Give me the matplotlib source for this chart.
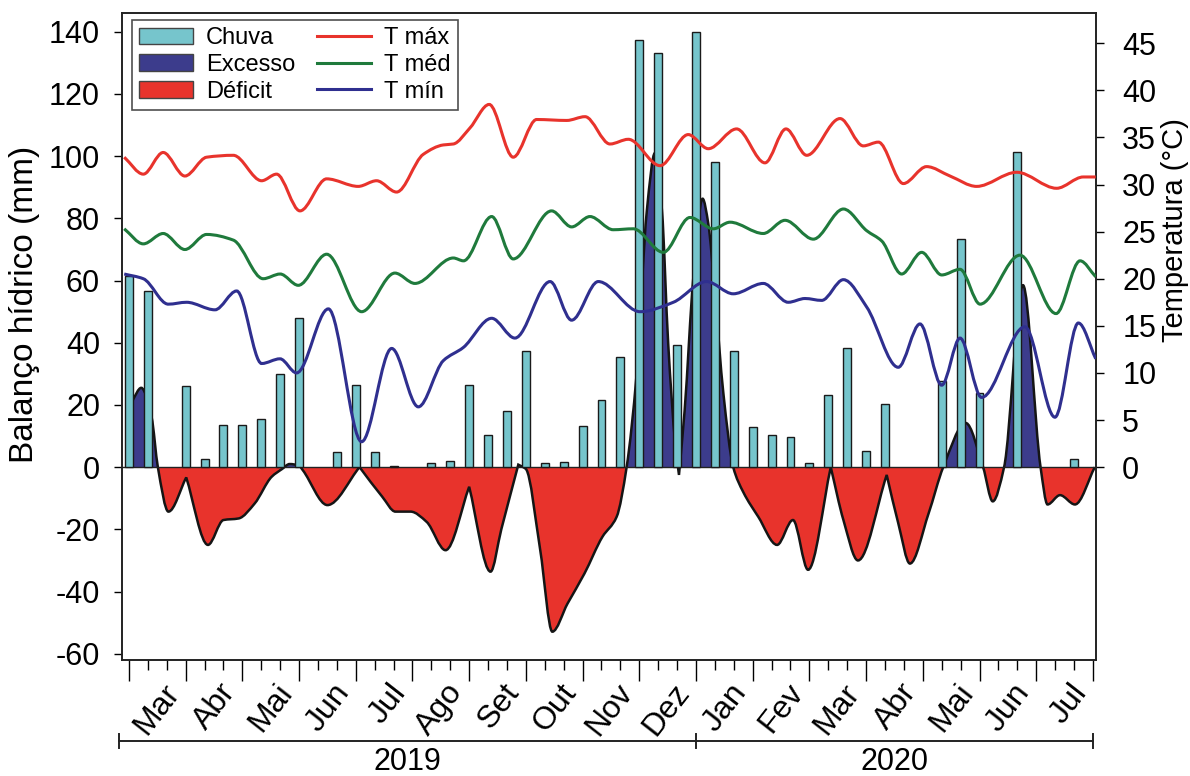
import numpy as np
import matplotlib
matplotlib.use("Agg")
import matplotlib.pyplot as plt
from matplotlib.path import Path
from matplotlib.patches import PathPatch, Rectangle, Patch
from matplotlib.lines import Line2D
import matplotlib.transforms as mtransforms

plt.rcParams['font.family'] = ['Liberation Sans', 'DejaVu Sans']
plt.rcParams['axes.unicode_minus'] = False

# ---------------- data ----------------
months = ['Mar', 'Abr', 'Mai', 'Jun', 'Jul', 'Ago', 'Set', 'Out', 'Nov', 'Dez',
          'Jan', 'Fev', 'Mar', 'Abr', 'Mai', 'Jun', 'Jul']
years = ['2019', '2020']

# decendial rainfall (mm), Mar/2019 .. Jul/2020 (3 per month)
chuva = [61.3, 56.6, 0.0, 26.0, 2.6, 13.6, 13.6, 15.6, 30.0, 48.0,
         0.0, 4.9, 26.3, 4.9, 0.3, 0.0, 1.4, 2.1, 26.5, 10.2,
         17.9, 37.2, 1.2, 1.8, 13.3, 21.5, 35.4, 137.4, 133.3, 39.2,
         140.0, 98.0, 37.4, 12.9, 10.2, 9.8, 1.2, 23.1, 38.2, 5.2,
         20.4, 0.0, 0.0, 27.6, 73.2, 23.9, 0.0, 101.3, 0.0, 0.0, 2.5]

# water balance curve (position in decendials, mm)
bal_x = [0.0, 0.2, 0.65, 1.2, 1.53, 2.09, 3.03, 4.18, 5.0, 5.8,
         6.65, 7.55, 8.1, 8.5, 9.0, 9.2, 10.5, 12.2, 13.4, 14.1,
         14.9, 15.75, 16.75, 18.0, 19.13, 19.7, 20.6, 21.0, 21.76, 22.4,
         23.2, 24.1, 25.05, 25.8, 26.33, 26.86, 27.4, 27.83, 28.2, 28.53,
         28.9, 29.1, 29.4, 29.86, 30.35, 30.65, 31.0, 31.45, 31.97, 32.5,
         33.3, 34.29, 35.13, 35.93, 37.13, 37.8, 38.57, 40.09, 40.7, 41.32,
         42.3, 43.08, 44.27, 45.19, 45.7, 46.3, 47.3, 48.23, 48.6, 49.26,
         50.05, 51.1]
bal_y = [19.0, 21.5, 25.5, 16.0, 0.0, -14.3, -3.3, -25.0, -17.0, -16.5,
         -11.7, -3.1, -0.6, 1.0, 0.5, -1.0, -12.2, 0.0, -9.5, -14.3,
         -14.3, -17.6, -26.7, -6.3, -33.6, -20.0, 0.8, -0.6, -26.7, -52.9,
         -43.9, -34.2, -22.4, -16.0, 0.0, 30.0, 82.5, 101.0, 82.5, 39.7,
         7.6, -2.5, 18.3, 61.0, 86.3, 78.3, 55.8, 23.7, 0.0, -8.0,
         -16.0, -25.0, -17.0, -33.0, 0.0, -17.0, -30.0, -2.5, -18.0, -31.0,
         -15.0, 0.0, 14.2, 0.0, -11.0, 0.0, 58.5, 0.0, -12.0, -9.0,
         -12.0, 0.0]
bal_cusps = [3.03, 12.2, 18.0, 20.6, 29.1, 37.13, 40.09]

# temperatures (position in decendials, °C)
tmax_x = [-0.25, 0.76, 1.81, 2.96, 4.11, 5.52, 7.02, 7.81, 9.05, 10.46,
          12.13, 13.1, 14.16, 15.57, 16.63, 17.16, 18.04, 19.06, 20.33, 21.57,
          23.16, 24.13, 25.45, 26.42, 28.1, 29.59, 30.65, 32.15, 33.65, 34.76,
          35.86, 37.62, 38.85, 39.65, 40.97, 42.2, 43.44, 44.85, 46.97, 49.08,
          50.49, 51.15]
tmax_y = [32.9, 31.1, 33.4, 30.9, 32.9, 33.1, 30.4, 31.1, 27.2, 30.6,
          29.8, 30.4, 29.2, 33.2, 34.2, 34.3, 36.0, 38.5, 32.9, 36.9,
          36.8, 37.2, 34.3, 34.8, 32.0, 35.3, 33.8, 35.9, 32.3, 35.9,
          33.1, 37.0, 34.1, 34.5, 30.1, 31.9, 30.9, 29.8, 31.3, 29.6,
          30.8, 30.8]

tmed_x = [-0.25, 0.76, 1.81, 2.96, 4.11, 5.52, 7.1, 8.0, 8.96, 10.46,
          12.31, 14.07, 15.13, 17.16, 17.7, 19.19, 20.33, 22.36, 23.42, 24.39,
          25.62, 26.68, 28.27, 29.68, 30.92, 31.8, 33.56, 34.71, 36.21, 37.8,
          39.03, 39.83, 40.88, 41.94, 43.0, 43.97, 45.03, 47.14, 49.05, 50.32,
          51.15]
tmed_y = [25.3, 23.7, 24.8, 23.1, 24.7, 24.1, 20.0, 20.5, 19.3, 22.6,
          16.5, 20.6, 19.5, 22.2, 21.9, 26.6, 22.1, 27.2, 25.5, 26.6,
          25.2, 25.3, 22.8, 26.5, 25.3, 26.0, 24.8, 26.2, 24.2, 27.4,
          25.1, 24.0, 20.5, 22.8, 20.4, 21.0, 17.3, 22.5, 16.3, 21.9,
          20.2]

tmin_x = [-0.25, 0.76, 2.08, 3.05, 4.55, 5.7, 7.02, 7.99, 8.87, 10.55,
          12.31, 13.9, 15.31, 16.63, 17.69, 19.19, 20.42, 22.28, 23.42, 24.83,
          27.04, 28.8, 30.56, 31.97, 33.56, 34.88, 35.77, 36.65, 37.8, 39.03,
          40.7, 41.85, 43.0, 43.97, 45.11, 47.4, 48.99, 50.23, 51.15]
tmin_y = [20.5, 20.0, 17.3, 17.5, 16.7, 18.7, 11.0, 11.5, 10.0, 16.8,
          2.7, 12.6, 6.4, 11.3, 12.7, 15.8, 13.7, 19.7, 15.6, 19.7,
          16.5, 17.5, 19.7, 18.4, 19.5, 17.5, 17.9, 17.7, 19.9, 17.0,
          10.6, 15.2, 8.7, 13.7, 7.4, 14.9, 5.3, 15.3, 11.5]

# ---------------- styles ----------------
C_CHUVA = '#76C5CC'
C_EXC = '#3C3C8C'
C_DEF = '#E8332C'
C_TMAX = '#E8332C'
C_TMED = '#1F7A3C'
C_TMIN = '#2F2F8F'


def smooth_path(xs, ys, cusps=()):
    """Cubic Bezier path through the given points (shape-preserving tangents)."""
    x = np.asarray(xs, float)
    y = np.asarray(ys, float)
    n = len(x)
    h = np.diff(x)
    d = np.diff(y) / h
    ml = np.zeros(n)
    mr = np.zeros(n)
    for i in range(n):
        if i == 0:
            ml[i] = mr[i] = d[0]
            continue
        if i == n - 1:
            ml[i] = mr[i] = d[-1]
            continue
        if any(abs(x[i] - c) < 1e-9 for c in cusps):
            ml[i] = d[i - 1]
            mr[i] = d[i]
            continue
        if d[i - 1] * d[i] <= 0:
            m = 0.0
        else:
            w1 = 2 * h[i] + h[i - 1]
            w2 = h[i] + 2 * h[i - 1]
            m = (w1 + w2) / (w1 / d[i - 1] + w2 / d[i])
        ml[i] = mr[i] = m
    verts = [(x[0], y[0])]
    codes = [Path.MOVETO]
    for i in range(n - 1):
        hh = h[i]
        verts += [(x[i] + hh / 3, y[i] + mr[i] * hh / 3),
                  (x[i + 1] - hh / 3, y[i + 1] - ml[i + 1] * hh / 3),
                  (x[i + 1], y[i + 1])]
        codes += [Path.CURVE4] * 3
    return verts, codes


fig = plt.figure(figsize=(11.9, 7.76), dpi=100)
ax = fig.add_axes([0.1028, 0.1495, 0.8180, 0.8337])
ax2 = ax.twinx()

XMIN, XMAX = -0.35, 51.15
ax.set_xlim(XMIN, XMAX)
ax.set_ylim(-62, 146)
ratio = 3.029
ax2.set_ylim(-62 / ratio, 146 / ratio)

# water balance fills
verts, codes = smooth_path(bal_x, bal_y, bal_cusps)
fverts = verts + [(bal_x[-1], 0), (bal_x[0], 0), (bal_x[0], bal_y[0])]
fcodes = codes + [Path.LINETO, Path.LINETO, Path.CLOSEPOLY]
fill_path = Path(fverts, fcodes)

pos_patch = PathPatch(fill_path, facecolor=C_EXC, edgecolor='none', zorder=1)
ax.add_patch(pos_patch)
pos_patch.set_clip_path(Rectangle((XMIN - 5, 0), 70, 500, transform=ax.transData))
neg_patch = PathPatch(fill_path, facecolor=C_DEF, edgecolor='none', zorder=1)
ax.add_patch(neg_patch)
neg_patch.set_clip_path(Rectangle((XMIN - 5, -500), 70, 500, transform=ax.transData))

curve = PathPatch(Path(verts, codes), facecolor='none', edgecolor='#151515',
                  linewidth=1.8, zorder=2)
ax.add_patch(curve)

ax.axhline(0, color='#222222', linewidth=1.0, zorder=2.5)

# rainfall bars
pos = np.arange(len(chuva))
vals = np.array(chuva)
mask = vals > 0
ax.bar(pos[mask], vals[mask], width=0.42, color=C_CHUVA, edgecolor='#1a1a1a',
       linewidth=1.0, zorder=3)

# temperature lines
for tx, ty, col in [(tmax_x, tmax_y, C_TMAX), (tmed_x, tmed_y, C_TMED),
                    (tmin_x, tmin_y, C_TMIN)]:
    v, c = smooth_path(tx, ty)
    ax2.add_patch(PathPatch(Path(v, c), facecolor='none', edgecolor=col,
                            linewidth=2.2, zorder=4))

# axes formatting
for a in (ax, ax2):
    for s in a.spines.values():
        s.set_linewidth(1.2)
        s.set_color('#222222')

ax.set_yticks(np.arange(-60, 141, 20))
ax.tick_params(axis='y', direction='out', length=6, width=1, labelsize=22, pad=10)
ax2.set_yticks(np.arange(0, 46, 5))
ax2.tick_params(axis='y', direction='out', length=6, width=1, labelsize=22, pad=13)

ax.set_xticks(np.arange(0, 52, 3))
ax.set_xticks(np.arange(0, 52, 1), minor=True)
ax.tick_params(axis='x', which='major', direction='out', length=15, width=1,
               labelbottom=False)
ax.tick_params(axis='x', which='minor', direction='out', length=7, width=1)

ax.set_ylabel('Balanço hídrico (mm)', fontsize=24)
ax.yaxis.set_label_coords(-0.085, 0.55)
ax2.set_ylabel('Temperatura (°C)', fontsize=21)
ax2.yaxis.set_label_coords(1.067, 0.665)

# month labels
trans = mtransforms.blended_transform_factory(ax.transData, ax.transAxes)
for i, m in enumerate(months):
    ax.text(3 * i + 1.75, -0.028, m, transform=trans, rotation=52,
            ha='right', va='top', rotation_mode='anchor', fontsize=23)

# year bracket
yb = -0.125
ax.add_line(Line2D([-0.5, 51.0], [yb, yb], transform=trans, color='#222222',
                   linewidth=1.4, clip_on=False))
for xb in (-0.5, 30.0, 51.0):
    ax.add_line(Line2D([xb, xb], [yb - 0.011, yb + 0.011], transform=trans,
                       color='#222222', linewidth=1.4, clip_on=False))
ax.text((-0.5 + 30.0) / 2, -0.157, years[0], transform=trans,
        ha='center', va='center', fontsize=22)
ax.text((30.0 + 51.0) / 2, -0.157, years[1], transform=trans,
        ha='center', va='center', fontsize=22)

# legend
handles = [Patch(facecolor=C_CHUVA, edgecolor='#444444', linewidth=1),
           Patch(facecolor=C_EXC, edgecolor='#444444', linewidth=1),
           Patch(facecolor=C_DEF, edgecolor='#444444', linewidth=1),
           Line2D([], [], color=C_TMAX, linewidth=2.2),
           Line2D([], [], color=C_TMED, linewidth=2.2),
           Line2D([], [], color=C_TMIN, linewidth=2.2)]
labels = ['Chuva', 'Excesso', 'Déficit', 'T máx', 'T méd', 'T mín']
leg = ax2.legend(handles, labels, ncol=2, loc='upper left',
                 bbox_to_anchor=(0.0097, 0.989), borderaxespad=0,
                 fontsize=17, frameon=True, fancybox=False,
                 handlelength=2.3, handleheight=0.7, handletextpad=0.55,
                 columnspacing=0.9, labelspacing=0.2, borderpad=0.3)
leg.get_frame().set_edgecolor('#222222')
leg.get_frame().set_linewidth(1.2)
leg.set_zorder(10)

fig.savefig('out.png', dpi=100)
